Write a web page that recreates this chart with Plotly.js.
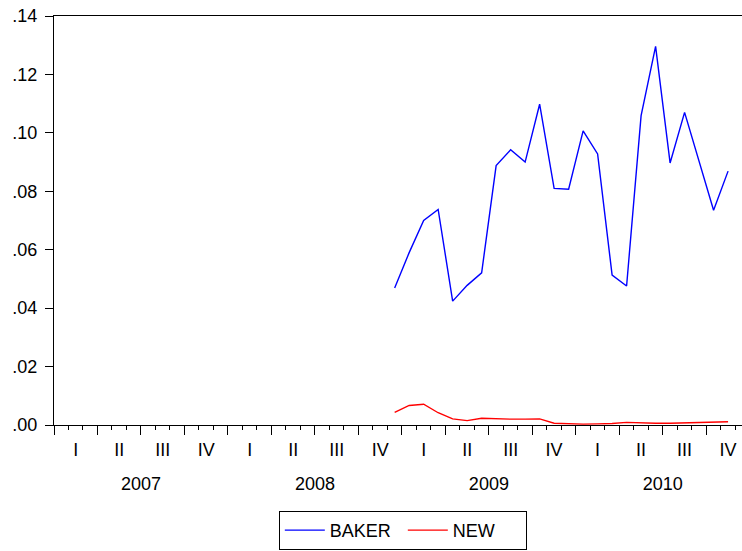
<!DOCTYPE html>
<html>
<head>
<meta charset="utf-8">
<script src="https://cdn.plot.ly/plotly-3.0.1.min.js"></script>
<style>
html,body{margin:0;padding:0;background:#fff;overflow:hidden;}
#chart{width:742px;height:551px;}
</style>
</head>
<body>
<div id="chart"></div>
<script>
// Monthly periods (EViews style) covered by the data
const periods = ['2008M12','2009M01','2009M02','2009M03','2009M04','2009M05','2009M06','2009M07','2009M08','2009M09','2009M10','2009M11','2009M12',
                 '2010M01','2010M02','2010M03','2010M04','2010M05','2010M06','2010M07','2010M08','2010M09','2010M10','2010M11'];
const baker = [0.0469,0.0590,0.0700,0.0738,0.0424,0.0478,0.0521,0.0888,0.0942,0.0900,0.1098,0.0810,
               0.0807,0.1007,0.0928,0.0513,0.0476,0.1059,0.1296,0.0897,0.1070,0.0902,0.0735,0.0869];
const newS  = [0.0043,0.0067,0.0071,0.0042,0.0021,0.0015,0.0023,0.0021,0.0020,0.0020,0.0021,0.0006,
               0.0004,0.0003,0.0004,0.0005,0.0009,0.0007,0.0006,0.0006,0.0007,0.0009,0.0009,0.0011];
const years = ['2007','2008','2009','2010'];
const quarterNames = ['I','II','III','IV'];
const yTickVals = [0,0.02,0.04,0.06,0.08,0.10,0.12,0.14];
const yTickText = ['.00','.02','.04','.06','.08','.10','.12','.14'];

const firstYear = 2007;
function pos(p){ const y=+p.slice(0,4), m=+p.slice(5); return (y-firstYear)*12 + (m-1) + 0.5; }
const xs = periods.map(pos);

const qVals=[], qText=[], qBounds=[], yVals=[];
years.forEach((y,i)=>{
  quarterNames.forEach((q,j)=>{ qVals.push(i*12+j*3+1.5); qText.push(q); qBounds.push(i*12+j*3); });
  yVals.push(i*12+6);
});
qBounds.push(years.length*12);

const font = {family:'"Liberation Sans", Arial, sans-serif', size:18, color:'#000'};
const xEnd = (742-54.3)/14.49;

const traces = [
  {x:xs, y:baker, name:'BAKER', type:'scatter', mode:'lines', line:{color:'#0000FF', width:1.4}},
  {x:xs, y:newS, name:'NEW', type:'scatter', mode:'lines', line:{color:'#FF0000', width:1.4}}
];

const layout = {
  width:742, height:551,
  margin:{l:54.3, r:0, t:16, b:126, pad:0, autoexpand:false},
  paper_bgcolor:'#fff', plot_bgcolor:'#fff',
  font:font,
  showlegend:true,
  legend:{orientation:'h', x:0.507, xanchor:'center', y:-0.210, yanchor:'top',
          bordercolor:'#000', borderwidth:1, font:{family:font.family, size:18, color:'#000'},
          itemwidth:40, entrywidth:68, traceorder:'normal'},
  xaxis:{range:[0,xEnd], showgrid:false, zeroline:false, showline:true, linecolor:'#000', linewidth:1, mirror:true,
         tickmode:'array', tickvals:qBounds, ticks:'outside', ticklen:9, tickcolor:'#000', tickwidth:1,
         showticklabels:false,
         minor:{dtick:1, tick0:0, ticks:'outside', ticklen:4, tickcolor:'#000', tickwidth:1, showgrid:false}},
  xaxis2:{overlaying:'x', anchor:'y', side:'bottom', range:[0,xEnd], showgrid:false, zeroline:false, showline:false,
          tickmode:'array', tickvals:qVals, ticktext:qText, ticks:'', ticklabelstandoff:12, tickfont:font},
  xaxis3:{overlaying:'x', anchor:'y', side:'bottom', range:[0,xEnd], showgrid:false, zeroline:false, showline:false,
          tickmode:'array', tickvals:yVals, ticktext:years, ticks:'', ticklabelstandoff:46, tickfont:font},
  yaxis:{range:[0,0.14], showgrid:false, zeroline:false, showline:true, linecolor:'#000', linewidth:1,
         tickmode:'array', tickvals:yTickVals, ticktext:yTickText, ticks:'outside', ticklen:8, tickcolor:'#000',
         tickfont:font, ticklabelstandoff:4}
};

// dummy invisible traces to activate overlay axes
traces.push({x:[0], y:[0], xaxis:'x2', yaxis:'y', mode:'markers', marker:{opacity:0}, showlegend:false, hoverinfo:'skip'});
traces.push({x:[0], y:[0], xaxis:'x3', yaxis:'y', mode:'markers', marker:{opacity:0}, showlegend:false, hoverinfo:'skip'});

Plotly.newPlot('chart', traces, layout, {displayModeBar:false, staticPlot:true});
</script>
</body>
</html>
